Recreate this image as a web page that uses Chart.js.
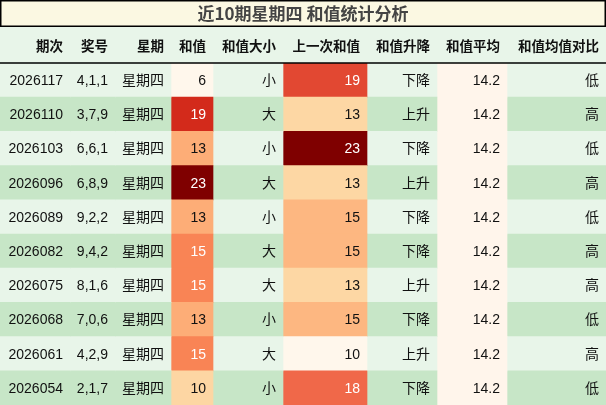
<!DOCTYPE html>
<html lang="zh">
<head>
<meta charset="UTF-8" />
<title>近10期星期四 和值统计分析</title>
<style>body{margin:0;background:#fff}</style>
</head>
<body>
<canvas id="myChart" width="606" height="405"></canvas>
<script src="https://cdn.jsdelivr.net/npm/chart.js@4.4.1/dist/chart.umd.min.js"></script>
<script>
const title = "近10期星期四 和值统计分析";
const headers = ["期次", "奖号", "星期", "和值", "和值大小", "上一次和值", "和值升降", "和值平均", "和值均值对比"];
const issues = ["2026117", "2026110", "2026103", "2026096", "2026089", "2026082", "2026075", "2026068", "2026061", "2026054"];
const numbers = ["4,1,1", "3,7,9", "6,6,1", "6,8,9", "9,2,2", "9,4,2", "8,1,6", "7,0,6", "4,2,9", "2,1,7"];
const weekdays = ["星期四", "星期四", "星期四", "星期四", "星期四", "星期四", "星期四", "星期四", "星期四", "星期四"];
const sums = [6, 19, 13, 23, 13, 15, 15, 13, 15, 10];
const sizes = ["小", "大", "小", "大", "小", "大", "大", "小", "大", "小"];
const prevSums = [19, 13, 23, 13, 15, 15, 13, 15, 10, 18];
const trends = ["下降", "上升", "下降", "上升", "下降", "下降", "上升", "下降", "上升", "下降"];
const averages = [14.2, 14.2, 14.2, 14.2, 14.2, 14.2, 14.2, 14.2, 14.2, 14.2];
const compare = ["低", "高", "低", "高", "低", "高", "高", "低", "高", "低"];

// layout
const colEdges = [0, 70, 115, 171, 213, 283, 367, 437, 507, 606];
const headerTop = 27, headerBottom = 63;
const FONT = '"Liberation Sans", "Noto Sans CJK SC", sans-serif';

const orrd = ["#fff7ec", "#fee8c8", "#fdd49e", "#fdbb84", "#fc8d59", "#ef6548", "#d7301f", "#b30000", "#7f0000"];
function hex(c) { return [1, 3, 5].map(i => parseInt(c.substr(i, 2), 16)); }
function heat(t) {
  const p = Math.max(0, Math.min(1, t)) * (orrd.length - 1);
  const i = Math.min(orrd.length - 2, Math.floor(p)), f = p - i;
  const a = hex(orrd[i]), b = hex(orrd[i + 1]);
  return "rgb(" + a.map((v, k) => Math.round(v + (b[k] - v) * f)).join(",") + ")";
}
function norm(arr) {
  const mn = Math.min(...arr), mx = Math.max(...arr);
  return arr.map(v => (v - mn) / (mx - mn));
}
const sumT = norm(sums), prevT = norm(prevSums);
const rowBg = issues.map((_, i) => i % 2 ? "#c7e6c7" : "#e8f5e9");

const columns = [
  { text: issues, bg: rowBg },
  { text: numbers, bg: rowBg },
  { text: weekdays, bg: rowBg },
  { text: sums.map(String), bg: sumT.map(heat), white: sumT.map(t => t > 0.5) },
  { text: sizes, bg: rowBg },
  { text: prevSums.map(String), bg: prevT.map(heat), white: prevT.map(t => t > 0.5) },
  { text: trends, bg: rowBg },
  { text: averages.map(v => v.toFixed(1)), bg: issues.map(() => "#fff5eb") },
  { text: compare, bg: rowBg }
];

const datasets = columns.map((c, j) => ({
  data: issues.map(() => [colEdges[j], colEdges[j + 1]]),
  backgroundColor: c.bg,
  borderWidth: 0,
  barPercentage: 1,
  categoryPercentage: 1,
  grouped: false
}));

const tablePlugin = {
  id: "table",
  beforeDraw(chart) {
    const ctx = chart.ctx;
    ctx.save();
    ctx.fillStyle = "#ffffff";
    ctx.fillRect(0, 0, 606, 405);
    ctx.fillStyle = "#fbf8e2";
    ctx.fillRect(0, 0, 606, headerTop);
    ctx.strokeStyle = "#000";
    ctx.lineWidth = 1.5;
    ctx.strokeRect(0.75, 0.75, 604.5, headerTop - 1.5);
    ctx.fillStyle = "#e8f5e9";
    ctx.fillRect(0, headerTop, 606, headerBottom - headerTop);
    ctx.fillStyle = "#444";
    ctx.font = 'bold 17px "Noto Sans CJK SC", sans-serif';
    ctx.textAlign = "center";
    ctx.textBaseline = "middle";
    ctx.fillText(title, 303, 14);
    ctx.fillStyle = "#111";
    ctx.font = 'bold 13.5px "Noto Sans CJK SC", sans-serif';
    ctx.textAlign = "right";
    headers.forEach((h, j) => ctx.fillText(h, colEdges[j + 1] - 7, 46));
    ctx.restore();
  },
  afterDatasetsDraw(chart) {
    const ctx = chart.ctx;
    ctx.save();
    ctx.font = "14px " + FONT;
    ctx.textAlign = "right";
    ctx.textBaseline = "middle";
    columns.forEach((c, j) => {
      chart.getDatasetMeta(j).data.forEach((bar, i) => {
        const right = Math.max(bar.x, bar.base);
        ctx.fillStyle = c.white && c.white[i] ? "#fff" : "#111";
        ctx.fillText(c.text[i], right - 7, bar.y + 1);
      });
    });
    ctx.strokeStyle = "#000";
    ctx.lineWidth = 1.5;
    ctx.beginPath();
    ctx.moveTo(0, headerBottom);
    ctx.lineTo(606, headerBottom);
    ctx.stroke();
    ctx.restore();
  }
};

new Chart("myChart", {
  type: "bar",
  data: { labels: issues, datasets: datasets },
  options: {
    indexAxis: "y",
    responsive: false,
    animation: false,
    devicePixelRatio: 1,
    layout: { padding: { top: headerBottom, left: 0, right: 0, bottom: 0 } },
    scales: {
      x: { display: false, min: 0, max: 606 },
      y: { display: false, stacked: true }
    },
    plugins: { legend: { display: false }, tooltip: { enabled: false } }
  },
  plugins: [tablePlugin]
});
</script>
</body>
</html>
